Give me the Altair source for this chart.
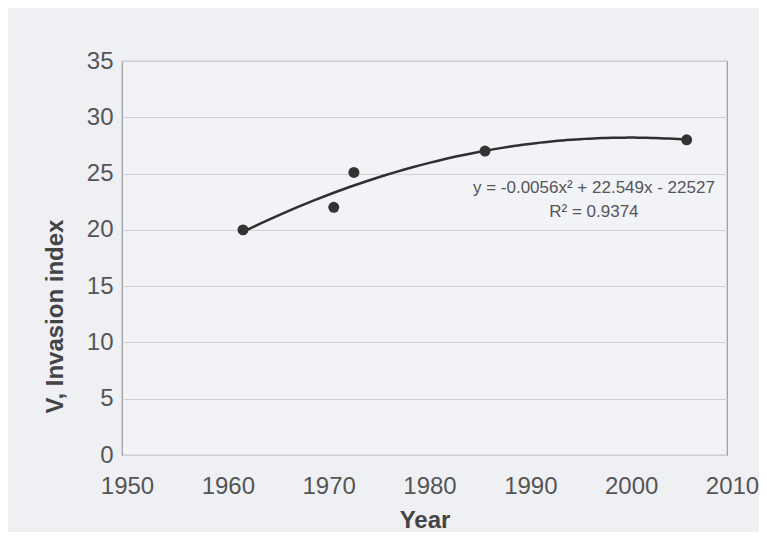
import altair as alt
import pandas as pd

years = [1962, 1971, 1973, 1986, 2006]
values = [20.0, 22.0, 25.1, 27.0, 28.0]

eq_x = [1996.8, 1996.8]
eq_y = [23.7, 21.6]
eq_text = ["y = -0.0056x\u00b2 + 22.549x - 22527", "R\u00b2 = 0.9374"]

df = pd.DataFrame({"year": years, "V": values})
ann = pd.DataFrame({"year": eq_x, "V": eq_y, "label": eq_text})

xscale = alt.Scale(domain=[1950, 2010], nice=False, zero=False)
yscale = alt.Scale(domain=[0, 35], nice=False)

xenc = alt.X("year:Q", scale=xscale,
             axis=alt.Axis(title="Year", values=list(range(1950, 2011, 10)), format="d",
                           grid=False, ticks=False, domain=False, labelPadding=19,
                           labelFlush=False, labelOffset=5, titlePadding=10))
yenc = alt.Y("V:Q", scale=yscale,
             axis=alt.Axis(title="V, Invasion index", values=list(range(0, 36, 5)),
                           grid=True, gridColor="#cfd0d4", gridWidth=1,
                           ticks=False, domain=False, labelPadding=9,
                           titleX=-67, titleY=255, titleBaseline="middle",
                           titleAlign="center", titleAngle=270))

points = alt.Chart(df).mark_circle(size=120, color="#333333", opacity=1).encode(x=xenc, y=yenc)

curve = alt.Chart(df).transform_regression(
    "year", "V", method="poly", order=2
).mark_line(color="#2f2f2f", strokeWidth=2.5).encode(x=alt.X("year:Q", scale=xscale),
                                                     y=alt.Y("V:Q", scale=yscale))

text = alt.Chart(ann).mark_text(font="Liberation Sans", fontSize=17, color="#555555",
                                align="center", baseline="middle").encode(
    x=alt.X("year:Q", scale=xscale), y=alt.Y("V:Q", scale=yscale), text="label:N")

chart = alt.layer(curve, points, text).properties(
    width=605, height=394,
    autosize=alt.AutoSizeParams(type="none"),
    padding={"left": 114, "top": 53, "right": 32, "bottom": 77},
    background="#eff0f4",
).configure_view(
    stroke="#9a9a9e", strokeWidth=1.2, fill="#f2f3f6"
).configure_axis(
    labelFont="Liberation Sans", labelFontSize=24, labelColor="#555555",
    titleFont="Liberation Sans", titleFontSize=24, titleFontWeight="bold", titleColor="#444444",
)

chart.save("out.html", embed_options={"renderer": "svg", "actions": False})
